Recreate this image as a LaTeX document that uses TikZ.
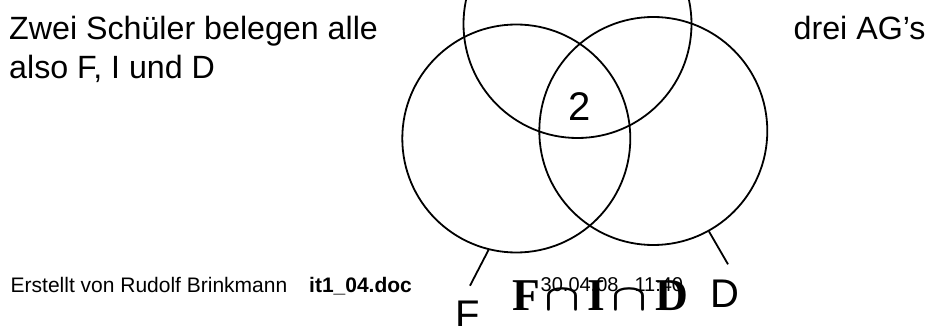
\documentclass[tikz,border=0pt]{standalone}
\usepackage{amsmath}
\usepackage{fontspec}
\setmainfont{Liberation Sans}
\newfontfamily\serifbold{Liberation Serif}
\newcommand{\capglyph}{\resizebox{36pt}{21pt}{$\boldsymbol{\cap}$}}
\begin{document}
\begin{tikzpicture}[x=1pt,y=-1pt,
  venn/.style={circle, draw, line width=1.8pt, inner sep=0pt, minimum size=228pt},
  tick/.style={line width=1.8pt},
  bigtxt/.style={inner sep=0pt, font=\fontsize{32.2}{38}\selectfont},
  foot/.style={inner sep=0pt, font=\fontsize{21}{24}\selectfont},
  lbl/.style={inner sep=0pt, font=\fontsize{40}{44}\selectfont}]
\useasboundingbox (0,0) rectangle (927,326);
% circles
\node[venn] (I) at (577.5,24) {};
\node[venn] (F) at (516.3,138.5) {};
\node[venn] (D) at (653.3,131) {};
% texts
\node[bigtxt, anchor=base west] (t1) at (9,40) {Zwei Schüler belegen alle};
\node[bigtxt, anchor=base west] (t2) at (9,78.3) {also F, I und D};
\node[bigtxt, anchor=base west] (t3) at (793.5,40) {drei AG’s};
\node[lbl, anchor=base] (two) at (580,120.7) {2};
% label ticks
\coordinate (fend) at (470,285.7);
\coordinate (dend) at (728,264.3);
\draw[tick] (F.256.6) -- (fend);
\draw[tick] (D.299.3) -- (dend);
\node[lbl, anchor=base west] (Fl) at (455,328.6) {F};
\node[lbl, anchor=base west] (Dl) at (710,307) {D};
% formula
\node[inner sep=0pt, anchor=base west, font=\serifbold\bfseries\fontsize{45.5}{50}\selectfont] (form) at (512,310.7)
  {F\hspace{5pt}\capglyph\hspace{7pt}I\hspace{6pt}\capglyph\hspace{8pt}D};
% footer
\node[foot, anchor=base west] (f1) at (10.5,292) {Erstellt von Rudolf Brinkmann};
\node[foot, anchor=base west] (f2) at (309,292) {\bfseries it1\_04.doc};
\node[inner sep=0pt, anchor=base west, font=\fontsize{20}{22}\selectfont] (date) at (540.5,291.7) {30.04.08\hspace{16pt}11:40};
\end{tikzpicture}
\end{document}
